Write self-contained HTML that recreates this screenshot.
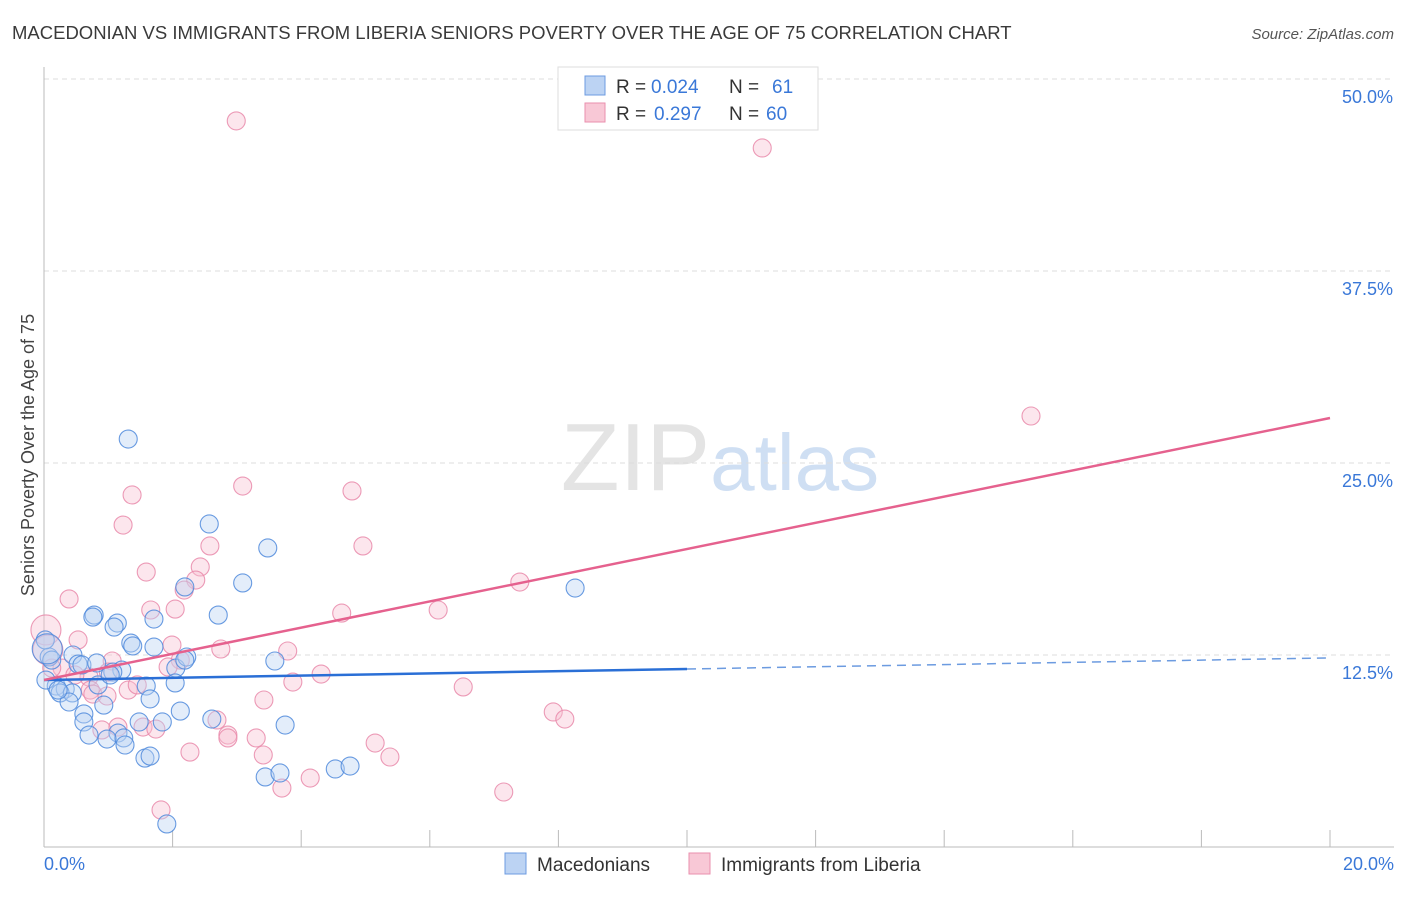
<!DOCTYPE html>
<html><head><meta charset="utf-8">
<style>
body{margin:0;background:#fff;font-family:"Liberation Sans",sans-serif;}
svg text{font-family:"Liberation Sans",sans-serif;}
</style></head>
<body>
<svg id="chart" width="1406" height="892" xmlns="http://www.w3.org/2000/svg">
<text x="12" y="39" font-size="18.5" fill="#3a3a3a">MACEDONIAN VS IMMIGRANTS FROM LIBERIA SENIORS POVERTY OVER THE AGE OF 75 CORRELATION CHART</text>
<text x="1394" y="39" font-size="15" fill="#555" text-anchor="end" font-style="italic">Source: ZipAtlas.com</text>
<text transform="translate(34,455) rotate(-90)" font-size="18" fill="#444" text-anchor="middle">Seniors Poverty Over the Age of 75</text>
<text x="720" y="490" font-size="96" fill="#e4e4e4" text-anchor="middle" font-family="Liberation Serif"><tspan>ZIP</tspan><tspan fill="#cfdff3" font-family="Liberation Sans" font-size="80">atlas</tspan></text>
<g id="grid"></g><g id="pts"></g><g id="lines"></g>
<g>
<rect x="558" y="67" width="260" height="63" fill="#fff" stroke="#ddd"/>
<rect x="585" y="76" width="20" height="19" fill="#bcd3f3" stroke="#6c9be0"/>
<rect x="585" y="103" width="20" height="19" fill="#f8c8d6" stroke="#ea8fae"/>
<text x="616" y="93" font-size="19" fill="#333">R =</text>
<text x="651" y="93" font-size="19" fill="#3a78d8">0.024</text>
<text x="729" y="93" font-size="19" fill="#333">N =</text>
<text x="772" y="93" font-size="19" fill="#3a78d8">61</text>
<text x="616" y="120" font-size="19" fill="#333">R =</text>
<text x="654" y="120" font-size="19" fill="#3a78d8">0.297</text>
<text x="729" y="120" font-size="19" fill="#333">N =</text>
<text x="766" y="120" font-size="19" fill="#3a78d8">60</text>
</g>
<g>
<rect x="505" y="853" width="21" height="21" fill="#bcd3f3" stroke="#6c9be0"/>
<text x="537" y="871" font-size="19" fill="#333">Macedonians</text>
<rect x="689" y="853" width="21" height="21" fill="#f8c8d6" stroke="#ea8fae"/>
<text x="721" y="871" font-size="19" fill="#333">Immigrants from Liberia</text>
</g>
</svg>
<script>
const yTicks=[12.5,25,37.5,50];
const yTickLabels=["12.5%","25.0%","37.5%","50.0%"];
const blueX=[1.31,2.57,3.48,3.09,8.26,2.19,0.78,0.76,2.71,1.14,1.09,1.71,1.35,1.38,1.71,3.59,0.08,0.45,0.12,0.53,0.59,0.82,1.21,1.07,2.05,2.22,2.19,0.19,0.33,0.25,0.44,0.84,0.39,0.93,2.04,1.59,1.65,2.12,0.62,0.62,1.48,1.84,2.61,3.75,0.70,1.15,1.24,0.98,1.26,1.57,1.65,3.44,3.67,4.53,4.76,1.91,0.02,0.03,0.22,1.03,0.05];
const blueY=[26.56,21.03,19.47,17.19,16.86,16.93,15.10,14.97,15.10,14.58,14.32,14.84,13.28,13.09,13.02,12.11,12.37,12.50,12.17,11.91,11.85,11.98,11.52,11.39,11.65,12.37,12.17,10.48,10.29,10.03,10.03,10.55,9.44,9.24,10.68,10.48,9.64,8.85,8.66,8.14,8.14,8.14,8.33,7.94,7.29,7.42,7.10,7.03,6.64,5.79,5.92,4.56,4.82,5.08,5.27,1.50,13.48,10.87,10.22,11.20,12.9];
const pinkX=[2.99,11.17,15.35,1.37,3.09,4.79,1.23,2.58,4.96,1.59,2.43,2.36,7.40,0.39,2.18,1.66,2.04,4.63,6.13,0.53,1.99,2.75,3.79,1.06,2.12,1.93,0.28,1.00,0.70,3.87,4.31,6.52,1.31,0.72,1.45,0.76,0.98,7.92,8.10,3.42,2.69,1.54,1.74,0.90,1.15,2.86,2.86,3.30,5.15,2.27,3.41,5.38,4.14,3.70,7.15,1.82,0.03,0.06,0.12,0.48];
const pinkY=[47.27,45.51,28.06,22.92,23.50,23.18,20.96,19.60,19.60,17.90,18.23,17.38,17.25,16.15,16.73,15.43,15.49,15.23,15.43,13.48,13.15,12.89,12.76,12.11,12.17,11.72,11.65,11.39,11.07,10.74,11.26,10.42,10.22,10.22,10.55,9.96,9.83,8.79,8.33,9.57,8.27,7.81,7.68,7.62,7.81,7.29,7.10,7.10,6.77,6.18,5.99,5.86,4.49,3.84,3.58,2.41,14.13,12.83,11.65,11.20];
const blueTrend=[10.87,12.31];
const pinkTrend=[10.87,27.93];
const X=v=>44+v*64.3, Y=v=>847-v*15.36;
const NS="http://www.w3.org/2000/svg";
function mk(tag,attrs,parent){const e=document.createElementNS(NS,tag);for(const k in attrs)e.setAttribute(k,attrs[k]);parent.appendChild(e);return e;}
const grid=document.getElementById('grid');
yTicks.forEach((t,i)=>{
 const l=mk('line',{x1:44,x2:1394,y1:Y(t),y2:Y(t),stroke:'#ddd','stroke-dasharray':'5,4'},grid);
 
 
 const tx=mk('text',{x:1393,y:Y(t)+24,'font-size':18,fill:'#3a78d8','text-anchor':'end'},grid);
 tx.textContent=yTickLabels[i];
 
 
});
const ax=mk('line',{x1:44,x2:44,y1:67,y2:847,stroke:'#bbb'},grid);


const bx=mk('line',{x1:44,x2:1394,y1:847,y2:847,stroke:'#bbb'},grid);


for(let v=2;v<=20;v+=2){const t=mk('line',{x1:X(v),x2:X(v),y1:830,y2:847,stroke:'#bbb'},grid);
 
 }
const xl0=mk('text',{x:44,y:870,'font-size':18,fill:'#3a78d8'},grid);xl0.textContent='0.0%';


const xl1=mk('text',{x:1394,y:870,'font-size':18,fill:'#3a78d8','text-anchor':'end'},grid);xl1.textContent='20.0%';


const pts=document.getElementById('pts');
function dots(xs,ys,fill,stroke,name){xs.forEach((x,i)=>{
 const big=(x<0.1&&i>=xs.length-5&&(ys[i]>13.9||ys[i]>12.8&&ys[i]<13.0));
 const c=mk('circle',{cx:X(x),cy:Y(ys[i]),r:big?15:9,fill:fill,'fill-opacity':0.4,stroke:stroke,'stroke-width':1.1,'stroke-opacity':0.85},pts);
 
 });}
dots(pinkX,pinkY,'#f8c0d2','#e98aaa','point-liberia');
dots(blueX,blueY,'#b9d1f2','#4f89dc','point-macedonian');
const lines=document.getElementById('lines');
const bs=v=>blueTrend[0]+(blueTrend[1]-blueTrend[0])*v/20;
const ps=v=>pinkTrend[0]+(pinkTrend[1]-pinkTrend[0])*v/20;
const l1=mk('line',{x1:X(0),y1:Y(bs(0)),x2:X(10),y2:Y(bs(10)),stroke:'#2a6fd6','stroke-width':2.5},lines);


const l2=mk('line',{x1:X(10),y1:Y(bs(10)),x2:X(20),y2:Y(bs(20)),stroke:'#6c9be0','stroke-width':1.5,'stroke-dasharray':'9,6'},lines);


const l3=mk('line',{x1:X(0),y1:Y(ps(0)),x2:X(20),y2:Y(ps(20)),stroke:'#e5618e','stroke-width':2.5},lines);


</script>
</body></html>
